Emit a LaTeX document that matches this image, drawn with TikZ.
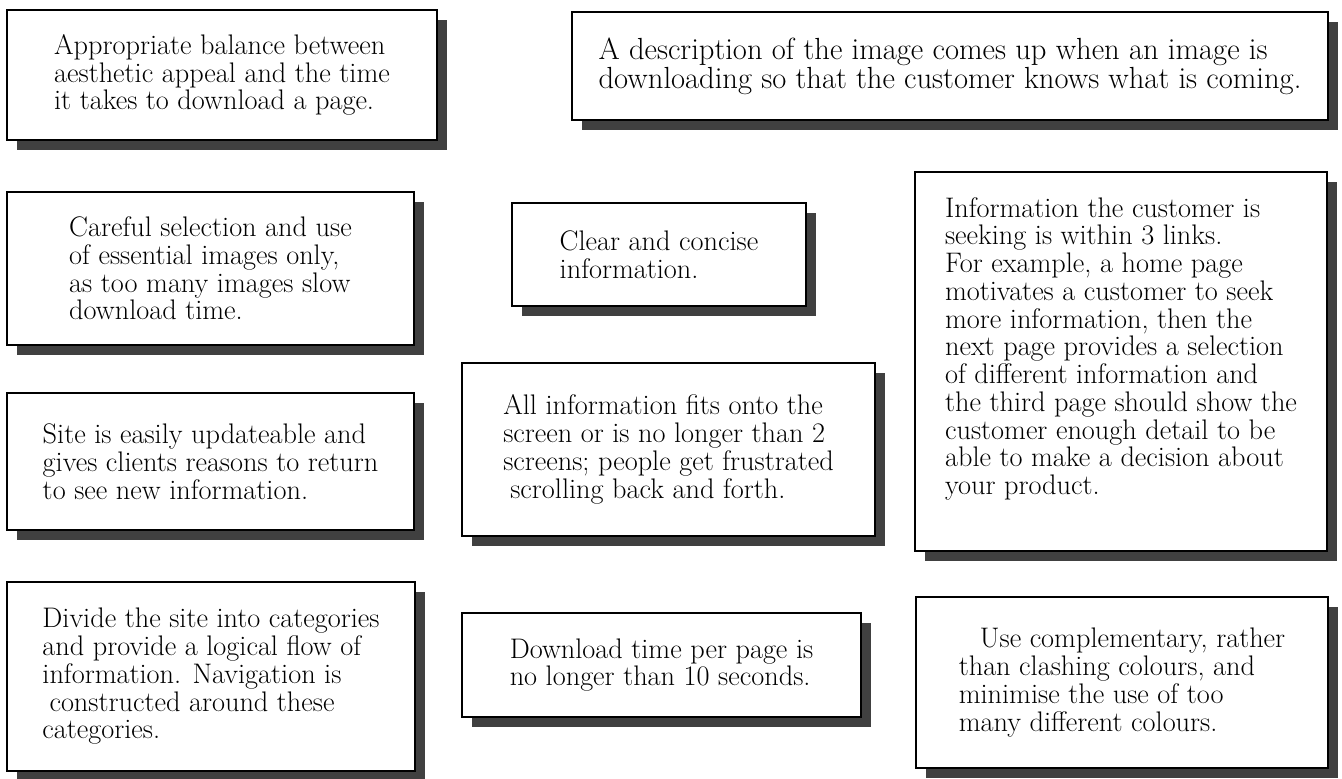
\documentclass[tikz,border=0pt]{standalone}
\usepackage{tikz}
\usetikzlibrary{shadows,positioning}

\tikzset{tipbox/.style={draw, line width=1.2pt, fill=white, align=left, inner sep=0pt,
    font=\fontsize{16.1}{15.8}\selectfont,
    drop shadow={shadow xshift=0.2cm, shadow yshift=-0.2cm, fill=black!75, opacity=1}}}

\begin{document}
\begin{tikzpicture}[x=0.02cm, y=-0.02cm]
\useasboundingbox (0,0) rectangle (1342,778);
\node[tipbox, minimum width=8.6cm, minimum height=2.6cm] (balance) at (222,75)
  {Appropriate balance between\\aesthetic appeal and the time\\it takes to download a page.};
\node[tipbox, minimum width=15.12cm, minimum height=2.16cm, font=\fontsize{17.4}{16.4}\selectfont] (descr) at (950,66)
  {A description of the image comes up when an image is\\downloading so that the customer knows what is coming.};
\node[tipbox, minimum width=8.14cm, minimum height=3.06cm] (images) at (210.5,268.5)
  {Careful selection and use\\of essential images only,\\as too many images slow\\download time.};
\node[tipbox, minimum width=5.88cm, minimum height=2.06cm] (concise) at (659,254.5)
  {Clear and concise\\information.};
\node[tipbox, minimum width=8.24cm, minimum height=7.58cm, text depth=0.62cm] (links) at (1121,361.5)
  {Information the customer is\\seeking is within 3 links.\\For example, a home page\\motivates a customer to seek\\more information, then the\\next page provides a selection\\of different information and\\the third page should show the\\customer enough detail to be\\able to make a decision about\\your product.};
\node[tipbox, minimum width=8.14cm, minimum height=2.74cm] (update) at (210.5,461.5)
  {Site is easily updateable and\\gives clients reasons to return\\to see new information.};
\node[tipbox, minimum width=8.26cm, minimum height=3.46cm] (screens) at (668.5,449.5)
  {All information fits onto the\\screen or is no longer than 2\\screens; people get frustrated\\\hspace{.25em}scrolling back and forth.};
\node[tipbox, minimum width=8.16cm, minimum height=3.78cm] (categ) at (211,676.5)
  {Divide the site into categories\\and provide a logical flow of\\information. Navigation is\\\hspace{.25em}constructed around these\\categories.};
\node[tipbox, minimum width=7.98cm, minimum height=2.08cm] (speed) at (661.5,665)
  {Download time per page is\\no longer than 10 seconds.};
\node[tipbox, minimum width=8.24cm, minimum height=3.42cm] (colours) at (1122,682.5)
  {\hspace{.75em}Use complementary, rather\\than clashing colours, and\\minimise the use of too\\many different colours.};
\end{tikzpicture}
\end{document}
